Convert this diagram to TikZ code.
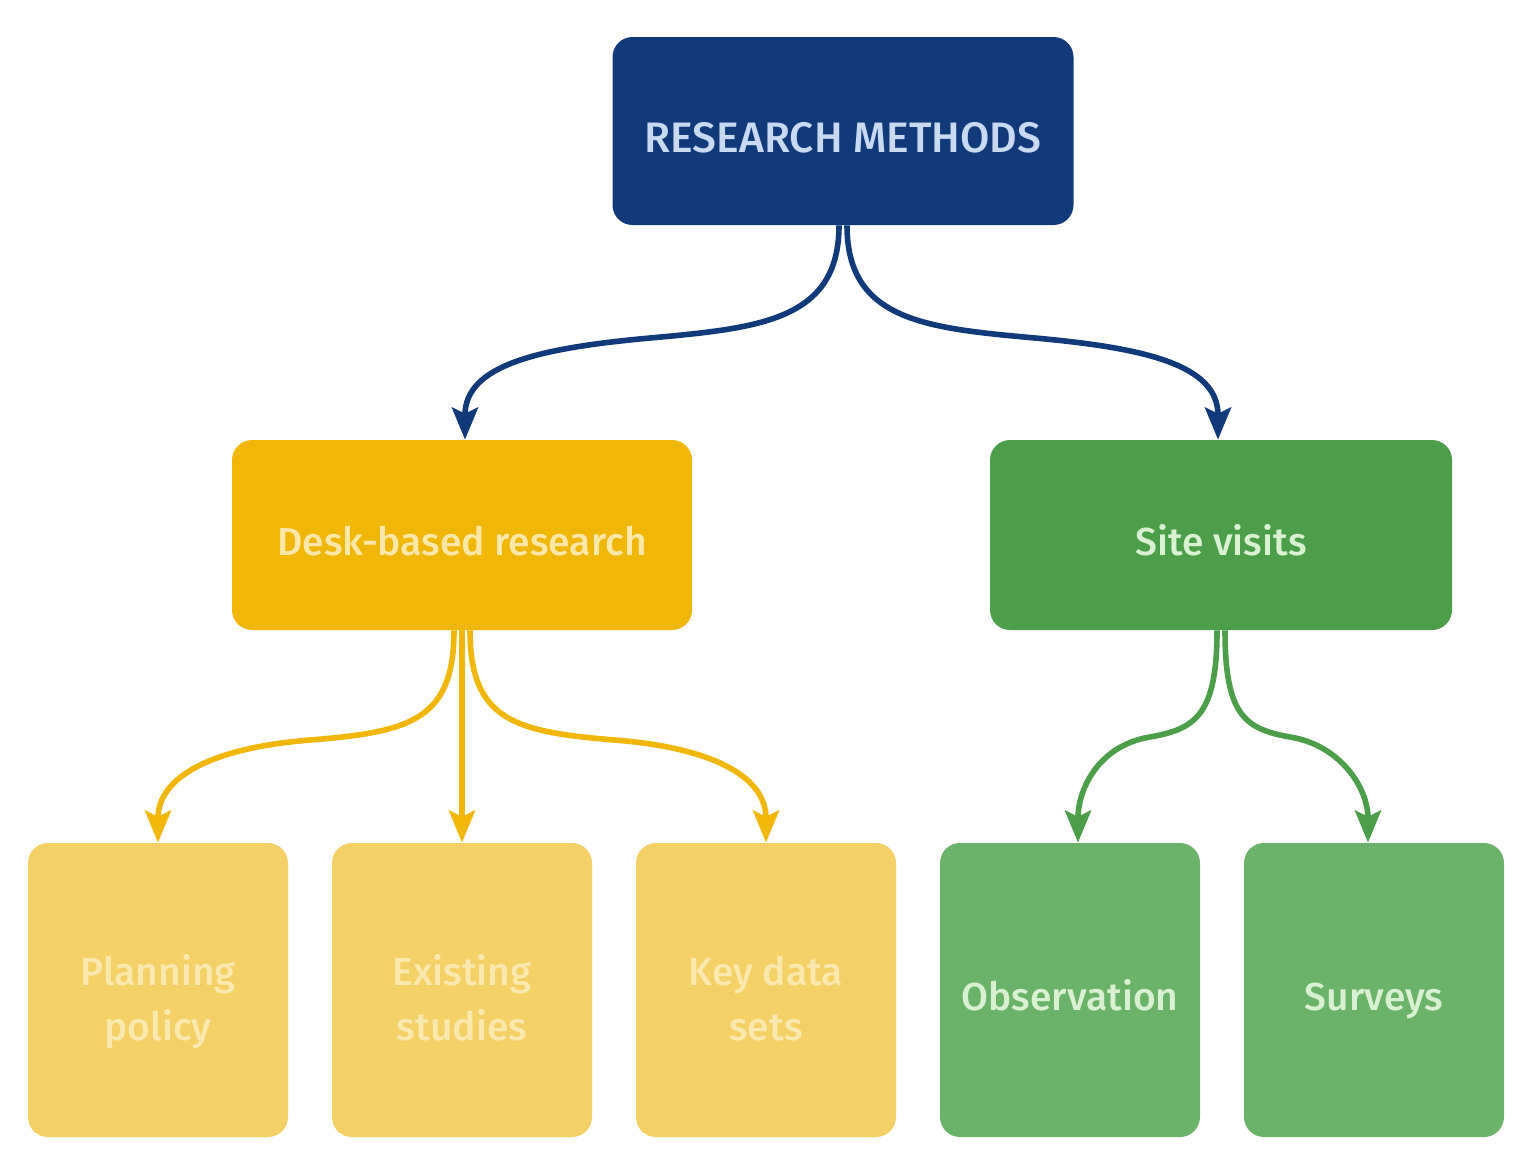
\documentclass[tikz,border=0pt]{standalone}
\usepackage{fontspec}
\setmainfont{Fira Sans}[UprightFont={* Medium}]
\usetikzlibrary{arrows.meta}
\definecolor{navy}{HTML}{123A7B}
\definecolor{gold}{HTML}{F0B708}
\definecolor{leaf}{HTML}{4C9E4A}
\definecolor{lgold}{HTML}{F3D166}
\definecolor{lleaf}{HTML}{6BB26A}
\definecolor{navytxt}{HTML}{C9D9F2}
\definecolor{goldtxt}{HTML}{FBE7A8}
\definecolor{lgoldtxt}{HTML}{FAE9AE}
\definecolor{leaftxt}{HTML}{D9F0D2}
\newcommand{\oneline}[2]{\raisebox{-#1}[0pt][0pt]{#2}}
\newcommand{\twoline}[2]{\raisebox{-25pt}[0pt][0pt]{\begin{tabular}[b]{@{}c@{}}#1\\#2\end{tabular}}}
\tikzset{
  box/.style={rounded corners=10pt, inner sep=0pt, align=center,
    font=\fontsize{19.5}{27.5}\selectfont},
  topbox/.style={box, fill=navy, text=navytxt, minimum width=230.5pt, minimum height=94pt,
    font=\fontsize{21.3}{27.5}\selectfont},
  midgold/.style={box, fill=gold, text=goldtxt, minimum width=230pt, minimum height=95pt},
  midleaf/.style={box, fill=leaf, text=leaftxt, minimum width=231pt, minimum height=95pt},
  lowgold/.style={box, fill=lgold, text=lgoldtxt, minimum width=130pt, minimum height=147pt},
  lowleaf/.style={box, fill=lleaf, text=leaftxt, minimum width=130pt, minimum height=147pt},
  conn/.style={line width=2.8pt, -{Stealth[length=16pt,width=13pt,inset=3pt]}},
}
\begin{document}
\begin{tikzpicture}[x=0.5pt,y=-0.5pt]
\useasboundingbox[fill=white] (0,0) rectangle (1526,1169);
\node[topbox] (top) at (843,131) {\oneline{10.5pt}{RESEARCH METHODS}};
\node[midgold] (desk) at (462,535) {\oneline{10pt}{Desk-based research}};
\node[midleaf] (site) at (1221,535) {\oneline{10pt}{Site visits}};
\node[lowgold] (plan) at (158,990) {\twoline{Planning}{policy}};
\node[lowgold] (exist) at (462,990) {\twoline{Existing}{studies}};
\node[lowgold] (key) at (766,990) {\twoline{Key data}{sets}};
\node[lowleaf] (obs) at (1070,990) {\oneline{10pt}{Observation}};
\node[lowleaf] (surv) at (1374,990) {\oneline{10pt}{Surveys}};
\coordinate (mL) at (650,338);
\coordinate (mR) at (1035,338);
\coordinate (dL) at (310,740);
\coordinate (dR) at (615,740);
\coordinate (sL) at (1150,737);
\coordinate (sR) at (1290,737);
\draw[conn, navy] ([xshift=-2pt]top.south) .. controls +(0,95) and +(110,-10) .. (mL) .. controls +(-110,10) and +(0,-75) .. ([xshift=1.5pt]desk.north);
\draw[conn, navy] ([xshift=2pt]top.south) .. controls +(0,95) and +(-110,-10) .. (mR) .. controls +(110,10) and +(0,-75) .. ([xshift=-1.5pt]site.north);
\draw[conn, gold] ([xshift=-4pt]desk.south) .. controls +(0,90) and +(100,-8) .. (dL) .. controls +(-100,8) and +(0,-65) .. ([xshift=0pt]plan.north);
\draw[conn, gold] (desk.south) -- (exist.north);
\draw[conn, gold] ([xshift=4pt]desk.south) .. controls +(0,90) and +(-100,-8) .. (dR) .. controls +(100,8) and +(0,-65) .. ([xshift=0pt]key.north);
\draw[conn, leaf] ([xshift=-2pt]site.south) .. controls +(0,85) and +(45,-8) .. (sL) .. controls +(-50,8) and +(0,-55) .. ([xshift=4pt]obs.north);
\draw[conn, leaf] ([xshift=2pt]site.south) .. controls +(0,85) and +(-45,-8) .. (sR) .. controls +(50,8) and +(0,-55) .. ([xshift=-3pt]surv.north);
\end{tikzpicture}
\end{document}
